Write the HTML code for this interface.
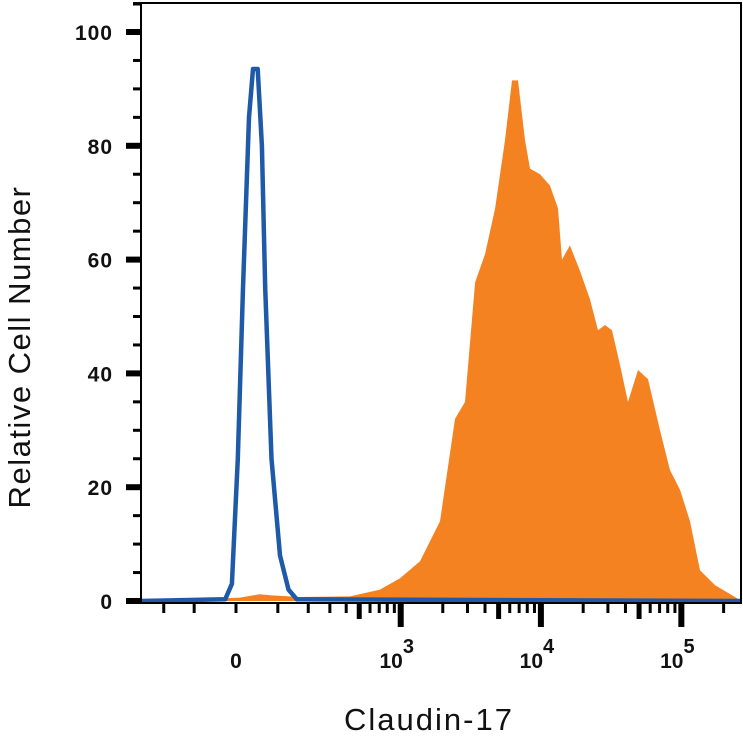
<!DOCTYPE html>
<html><head><meta charset="utf-8"><style>
html,body{margin:0;padding:0;background:#fff;width:743px;height:743px;overflow:hidden}
svg{display:block;font-family:"Liberation Sans",sans-serif}
</style></head><body>
<svg id="chart" width="743" height="743">
<g id="plot"></g>
<text x="30" y="347" transform="rotate(-90 30 347)" text-anchor="middle" font-size="31" letter-spacing="1.5" fill="#111">Relative Cell Number</text>
<text x="429" y="730" text-anchor="middle" font-size="31" letter-spacing="2" fill="#111">Claudin-17</text>
</svg>
<script>
const orangeX=[-308,9,54,79,169,426,709,989,1374,1910,2445,2882,3398,4007,4718,5550,6227,6870,7705,8370,9860,11610,13240,14130,16100,18980,22370,25500,28600,32100,36590,41700,49150,57900,70500,83000,97900,115300,135800,173600,241000,266000];
const orangeY=[0,0.6,1.2,1.0,0.7,0.8,2.0,4.0,7.0,14,32,35,56,61,69,81,91.5,91.5,81,76,75,73,69,60,62.5,58,53,47.6,48.5,47.6,41.5,35,40.6,39,30,23,19.5,14,5.4,2.8,0.7,0];
const blueX=[-308,-24,-9,4,15.5,29,38,49,59,67,83,106,131,158,266000];
const blueY=[0,0.3,3,25,55,85,93.5,93.5,80,55,25,8,2,0.3,0];
const yTickLabels=["0","20","40","60","80","100"];
const yTickVals=[0,20,40,60,80,100];

const L=141,R=741,T=3,B=603,Y0=601;
const W=135,BS=61,X0=236;
function xs(v){return X0+BS*Math.asinh(v/W);}
function ys(v){return Y0-v*5.69;}
const NS="http://www.w3.org/2000/svg";
const g=document.getElementById('plot');
function mk(t,a){const e=document.createElementNS(NS,t);for(const k in a)e.setAttribute(k,a[k]);g.appendChild(e);return e;}

let d=`M${xs(orangeX[0])},${Y0}`;
for(let i=0;i<orangeX.length;i++)d+=` L${Math.min(R,xs(orangeX[i])).toFixed(1)},${ys(orangeY[i]).toFixed(1)}`;
d+=` L${R},${Y0} Z`;
const of=mk('path',{d:d,fill:'#F58220',stroke:'none'});



let bd='';
for(let i=0;i<blueX.length;i++)bd+=(i?' L':'M')+Math.max(L,Math.min(R,xs(blueX[i]))).toFixed(1)+','+ys(blueY[i]).toFixed(1);
const bl=mk('path',{d:bd,fill:'none',stroke:'#1F5AA8','stroke-width':4.5,'stroke-linejoin':'round'});



const fr=mk('rect',{x:L,y:T,width:R-L,height:B-T,fill:'none',stroke:'#000','stroke-width':2});



for(let v=0;v<=105;v+=5){
  const major=v%20===0;
  const t=mk('line',{x1:major?126:133,x2:L,y1:ys(v),y2:ys(v),stroke:'#000','stroke-width':major?6:3});
  
  
}
const yt=mk('line',{x1:133,x2:L,y1:T+1,y2:T+1,stroke:'#000','stroke-width':3});


yTickVals.forEach((v,i)=>{
  const t=mk('text',{x:113,y:ys(v)+8,'text-anchor':'end','font-size':21,'font-weight':'bold','letter-spacing':1,fill:'#111'});
  t.textContent=yTickLabels[i];
  
  
});

const xt=[];
for(let dd=2;dd<=5;dd++)for(let k=1;k<=9;k++){xt.push([k*Math.pow(10,dd),k]);xt.push([-k*Math.pow(10,dd),k]);}
xt.push([0,1]);
xt.forEach(([v,k])=>{
  const x=xs(v);if(x<L+3||x>R-3)return;
  const a=Math.abs(v);
  const big=k===1&&a>=1000;
  const len=big?24:(k===5?16:10);
  const t=mk('line',{x1:x,x2:x,y1:B,y2:B+len,stroke:'#000','stroke-width':big?6:(k===5?5:3)});
  
  
});
const xLab=[[0,"0",""],[1000,"10","3"],[10000,"10","4"],[100000,"10","5"]];
xLab.forEach(([v,b,e])=>{
  const t=mk('text',{x:xs(v)+(e?-4:0),y:668,'text-anchor':'middle','font-size':21,'font-weight':'bold',fill:'#111'});
  t.textContent=b;
  if(e){const s=document.createElementNS(NS,'tspan');s.setAttribute('dy','-15');s.setAttribute('font-size','20');s.textContent=e;t.appendChild(s);}
  
  
});
</script>
</body></html>
